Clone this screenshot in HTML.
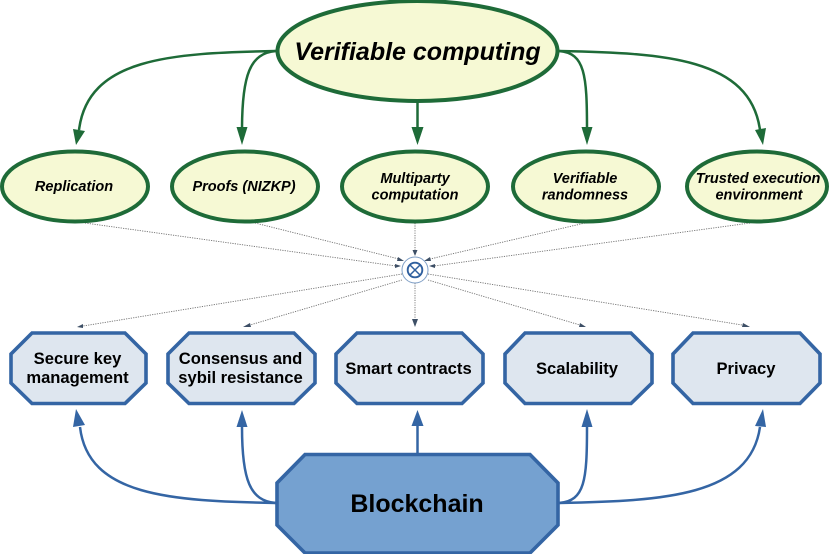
<!DOCTYPE html>
<html>
<head>
<meta charset="utf-8">
<style>
html,body{margin:0;padding:0;background:#fff;width:829px;height:554px;overflow:hidden}
svg{display:block}
text{font-family:"Liberation Sans",sans-serif;font-weight:bold;fill:#000;text-anchor:middle}
.i{font-style:italic;font-size:14.5px}
.b{font-size:16.6px}
.e{fill:#f6f9d4;stroke:#1e6b38;stroke-width:4}
.o{fill:#dee6ef;stroke:#3465a4;stroke-width:3.6}
.g{fill:none;stroke:#1e6b38;stroke-width:2.5}
.u{fill:none;stroke:#3465a4;stroke-width:2.5}
.d{fill:none;stroke:#6f6f6f;stroke-width:.9;stroke-dasharray:1.2 1.2}
.ga{fill:#1e6b38}.ua{fill:#3465a4}.da{fill:#3d4f66}
</style>
</head>
<body>
<svg width="829" height="554" viewBox="0 0 829 554" xmlns="http://www.w3.org/2000/svg">
<!-- dotted -->
<path class="d" d="M85 223L396 266"/>
<path class="d" d="M255 223L399 259"/>
<path class="d" d="M415 223V251"/>
<path class="d" d="M585 223L430 259"/>
<path class="d" d="M750 223L434 266"/>
<path class="d" d="M402 274L83 326"/>
<path class="d" d="M402 280L250 325"/>
<path class="d" d="M415 283V320"/>
<path class="d" d="M428 280L580 325"/>
<path class="d" d="M428 274L742 325"/>
<path class="da" d="M404 261L398 257L397 261Z"/>
<path class="da" d="M401 266L395 264L395 268Z"/>
<path class="da" d="M415 256L412.500 250L417.500 250Z"/>
<path class="da" d="M424 261L430 257L431 261Z"/>
<path class="da" d="M429 266L435 264L435 268Z"/>
<path class="da" d="M415 327L412 319L418 319Z"/>
<path class="da" d="M77 327L83 324L83 328Z"/>
<path class="da" d="M243 327L250 323L251 327Z"/>
<path class="da" d="M586 327L580 323L579 327Z"/>
<path class="da" d="M750 327L743 323L742 327Z"/>
<circle cx="415" cy="270" r="13" fill="#fff" stroke="#7f9fc6" stroke-width="1"/>
<circle cx="415" cy="270" r="7.300" fill="#fff" stroke="#2f5f9e" stroke-width="1.900"/>
<path d="M410 265L420 275M420 265L410 275" stroke="#2f5f9e" stroke-width="1.500"/>

<!-- green connectors -->
<path class="g" d="M276 51C170 53 88 58 79 130"/>
<path class="g" d="M276 51C250 53 242 75 242 130"/>
<path class="g" d="M417.500 102V130"/>
<path class="g" d="M559 51C585 53 587 75 587 130"/>
<path class="g" d="M559 51C665 53 750 58 760 130"/>
<path class="ga" d="M76 145L73 129L85 131Z"/>
<path class="ga" d="M242 145L236.500 127L247.500 127Z"/>
<path class="ga" d="M417.500 145L411.500 127L423.500 127Z"/>
<path class="ga" d="M587 145L581.500 127L592.500 127Z"/>
<path class="ga" d="M763 145L755 130L766 128Z"/>

<!-- blue connectors -->
<path class="u" d="M276 503C170 501 88 496 80 427"/>
<path class="u" d="M276 503C250 501 242 480 242 427"/>
<path class="u" d="M417.500 453V425"/>
<path class="u" d="M559 503C585 501 587 480 587 427"/>
<path class="u" d="M559 503C665 501 750 496 760 427"/>
<path class="ua" d="M76 409L85 425L73 427Z"/>
<path class="ua" d="M242 410L247.500 427L236.500 427Z"/>
<path class="ua" d="M417.500 410L423.500 426L411.500 426Z"/>
<path class="ua" d="M587 409L592.500 427L581.500 427Z"/>
<path class="ua" d="M763 409L766 427L755 426Z"/>

<!-- ellipses -->
<ellipse class="e" cx="417.500" cy="51" rx="140" ry="50"/>
<ellipse class="e" cx="75" cy="186.500" rx="73" ry="35"/>
<ellipse class="e" cx="245" cy="186.500" rx="73" ry="35"/>
<ellipse class="e" cx="415" cy="186.500" rx="73" ry="35"/>
<ellipse class="e" cx="586" cy="186.500" rx="73" ry="35"/>
<ellipse class="e" cx="757" cy="186.500" rx="70" ry="35"/>

<!-- octagons -->
<polygon class="o" points="32,333 125,333 146,354 146,383 125,403.500 32,403.500 11,383 11,354"/>
<polygon class="o" points="189,333 294,333 315,354 315,383 294,403.500 189,403.500 168,383 168,354"/>
<polygon class="o" points="357,333 462,333 483,354 483,383 462,403.500 357,403.500 336,383 336,354"/>
<polygon class="o" points="525,333 631,333 652,354 652,383 631,403.500 525,403.500 505,383 505,354"/>
<polygon class="o" points="693,333 800,333 820,354 820,383 800,403.500 693,403.500 673,383 673,354"/>
<polygon points="305,454.500 530,454.500 558,483 558,525 530,553 305,553 277,525 277,483" fill="#729fcf" fill-opacity=".98" stroke="#3465a4" stroke-width="3.600"/>

<!-- labels -->
<text x="417.500" y="60" style="font-size:25px;font-style:italic">Verifiable computing</text>
<text class="i" x="74" y="191">Replication</text>
<text class="i" x="244" y="191">Proofs (NIZKP)</text>
<text class="i" x="415" y="183">Multiparty</text>
<text class="i" x="415" y="199.500">computation</text>
<text class="i" x="585" y="183">Verifiable</text>
<text class="i" x="585" y="199.500">randomness</text>
<text class="i" x="758" y="183">Trusted execution</text>
<text class="i" x="759" y="199.500">environment</text>
<text class="b" x="77.500" y="364">Secure key</text>
<text class="b" x="77.500" y="383">management</text>
<text class="b" x="240.500" y="364">Consensus and</text>
<text class="b" x="240.500" y="383">sybil resistance</text>
<text class="b" x="408.500" y="374">Smart contracts</text>
<text class="b" x="577" y="374">Scalability</text>
<text class="b" x="746" y="374">Privacy</text>
<text x="417" y="512" style="font-size:25px">Blockchain</text>
</svg>
</body>
</html>
